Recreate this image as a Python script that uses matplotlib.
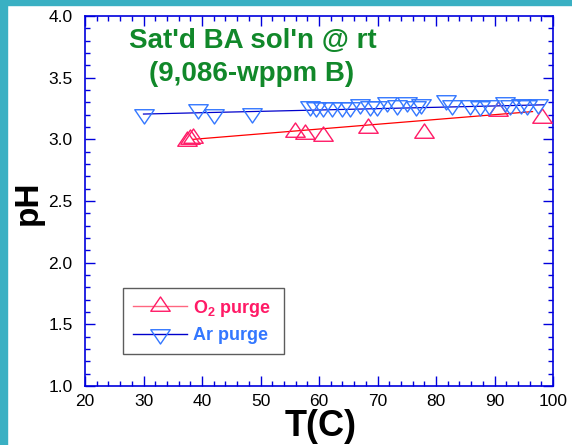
import numpy as np
import matplotlib
matplotlib.use("Agg")
import matplotlib.pyplot as plt
from matplotlib.path import Path
from matplotlib.patches import Rectangle
from matplotlib.ticker import MultipleLocator

plt.rcParams['font.family'] = ['Liberation Sans', 'DejaVu Sans']
plt.rcParams['mathtext.fontset'] = 'custom'
plt.rcParams['mathtext.bf'] = 'Liberation Sans:bold'
plt.rcParams['mathtext.rm'] = 'Liberation Sans:bold'

# O2 purge measurements
o2_T = [37.5, 38.0, 38.5, 55.9, 57.6, 60.6, 68.4, 78.0, 90.6, 98.2]
o2_pH = [2.99, 3.00, 3.01, 3.06, 3.04, 3.03, 3.09, 3.05, 3.23, 3.17]
o2_fit_T = [38.5, 96.5]
o2_fit_pH = [3.00, 3.225]

# Ar purge measurements
ar_T = [30.0, 39.4, 42.0, 48.5, 58.5, 59.5, 60.7, 62.2, 63.9, 65.3, 67.0,
        68.7, 69.9, 71.6, 73.3, 75.0, 76.5, 77.4, 81.7, 82.8, 85.8, 87.5,
        89.0, 91.8, 92.6, 94.5, 95.5, 97.4]
ar_pH = [3.205, 3.245, 3.205, 3.215, 3.27, 3.265, 3.26, 3.265, 3.26, 3.265, 3.29,
         3.27, 3.27, 3.30, 3.28, 3.30, 3.27, 3.285, 3.32, 3.28, 3.28, 3.27,
         3.28, 3.30, 3.28, 3.29, 3.28, 3.29]
ar_fit_T = [30.0, 98.5]
ar_fit_pH = [3.205, 3.28]

red_mk = '#ff1a66'
blue_mk = '#3377ff'
axis_blue = '#0000dd'
green = '#11882a'

# flat triangles (wider than tall)
up_tri = Path([(-1, -0.49), (1, -0.49), (0, 0.98), (-1, -0.49)],
              [Path.MOVETO, Path.LINETO, Path.LINETO, Path.CLOSEPOLY])
down_tri = Path([(-1, 0.49), (1, 0.49), (0, -0.98), (-1, 0.49)],
                [Path.MOVETO, Path.LINETO, Path.LINETO, Path.CLOSEPOLY])

fig = plt.figure(figsize=(5.72, 4.45), dpi=100)
fig.patches.append(Rectangle((0, 0), 7 / 572, 1, transform=fig.transFigure,
                             color='#3ab0c3', zorder=0))
fig.patches.append(Rectangle((0, 1 - 5 / 445), 1, 5 / 445, transform=fig.transFigure,
                             color='#3ab0c3', zorder=0))

ax = fig.add_axes([85 / 572, 1 - 386 / 445, 468 / 572, 370 / 445])

ax.plot(o2_fit_T, o2_fit_pH, color='#ff0000', lw=0.9, zorder=2)
ax.plot(ar_fit_T, ar_fit_pH, color='#0000cc', lw=0.9, zorder=2)
ax.plot(o2_T, o2_pH, ls='none', marker=up_tri, ms=14, mfc='none',
        mec=red_mk, mew=1.0, zorder=3)
ax.plot(ar_T, ar_pH, ls='none', marker=down_tri, ms=14, mfc='none',
        mec=blue_mk, mew=1.0, zorder=4)

# legend proxies
h1, = ax.plot([], [], color='#ff6680', lw=1.0, marker=up_tri, ms=14,
              mfc='none', mec=red_mk, mew=1.0)
h2, = ax.plot([], [], color='#0000cc', lw=1.0, marker=down_tri, ms=14,
              mfc='none', mec=blue_mk, mew=1.0)
leg = ax.legend([h1, h2], [r'O$_{\mathbf{2}}$ purge', 'Ar purge'],
                loc='lower left', bbox_to_anchor=(0.081, 0.087, 0.345, 0.184),
                mode='expand', borderaxespad=0, handlelength=3.0,
                handletextpad=0.35, borderpad=0.55, labelspacing=0.45,
                fancybox=False, prop={'weight': 'bold', 'size': 13})
leg.get_frame().set_edgecolor('#333333')
leg.get_frame().set_linewidth(1.0)
leg.get_texts()[0].set_color(red_mk)
leg.get_texts()[1].set_color(blue_mk)

ax.set_xlim(20, 100)
ax.set_ylim(1.0, 4.0)
ax.xaxis.set_major_locator(MultipleLocator(10))
ax.xaxis.set_minor_locator(MultipleLocator(2))
ax.yaxis.set_major_locator(MultipleLocator(0.5))
ax.yaxis.set_minor_locator(MultipleLocator(0.1))
ax.yaxis.set_major_formatter(matplotlib.ticker.FormatStrFormatter('%.1f'))

for s in ax.spines.values():
    s.set_color(axis_blue)
    s.set_linewidth(1.2)
ax.tick_params(which='both', direction='in', top=True, right=True,
               color=axis_blue, width=1.0, labelsize=12.5)
ax.tick_params(which='major', length=7)
ax.tick_params(which='minor', length=3.5)
ax.tick_params(axis='y', pad=9)
ax.tick_params(axis='x', pad=6)

ax.text(0.358, 0.932, "Sat'd BA sol'n @ rt", transform=ax.transAxes,
        ha='center', va='center', color=green, fontsize=20, fontweight='bold')
ax.text(0.355, 0.843, "(9,086-wppm B)", transform=ax.transAxes,
        ha='center', va='center', color=green, fontsize=20, fontweight='bold')

fig.text(321 / 572, 1 - 427 / 445, 'T(C)', ha='center', va='center',
         fontsize=26, fontweight='bold')
fig.text(28 / 572, 1 - 203 / 445, 'pH', ha='center', va='center',
         rotation=90, fontsize=24, fontweight='bold')

fig.savefig('out.png', dpi=100)
